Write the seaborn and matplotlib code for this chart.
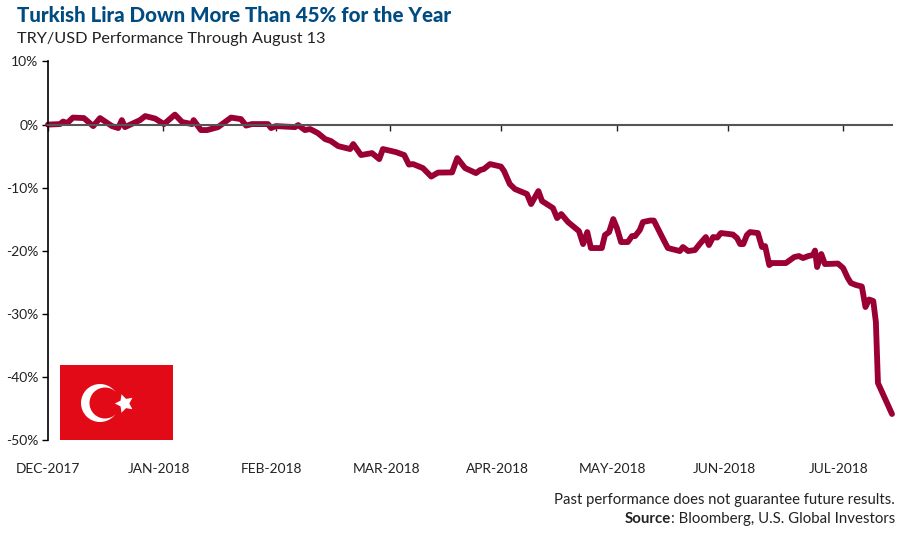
import matplotlib
matplotlib.use("Agg")
import matplotlib.pyplot as plt
import matplotlib.patches as mpatches
import matplotlib.transforms as mtrans
import pandas as pd
import seaborn as sns

# Trading days since the start of the series, and TRY/USD performance in %
trading_day = [
    0, 2.3, 2.9, 3.7, 4.8, 6.9, 8.7, 10.0, 12.3, 13.5, 14.2, 14.8, 17.7, 18.7, 20.6, 22.3,
    24.4, 25.8, 27.7, 28.0, 29.4, 30.6, 32.7, 35.2, 37.1, 38.1, 39.2, 42.3, 42.9, 43.8,
    47.5, 48.1, 49.4, 50.4, 51.9, 53.3, 54.4, 55.8, 58.1, 58.7, 60.2, 62.3, 63.7, 64.4,
    66.9, 68.5, 69.4, 70.2, 72.1, 73.7, 75.0, 77.7, 78.7, 80.2, 82.3, 83.1, 83.8, 85.0,
    87.1, 87.7, 88.8, 89.8, 92.1, 92.9, 94.3, 95.0, 97.1, 97.9, 98.7, 100.0, 102.1, 102.9,
    103.7, 104.4, 106.5, 107.1, 107.9, 108.7, 109.4, 110.2, 111.5, 112.3, 112.9, 113.8,
    114.4, 115.8, 116.5, 118.3, 119.2, 121.5, 122.1, 123.1, 124.4, 125.4, 126.5, 127.1,
    127.9, 128.7, 129.4, 131.7, 132.5, 133.1, 133.7, 134.4, 135.0, 136.5, 137.3, 137.9,
    138.7, 139.2, 141.9, 142.7, 143.5, 144.4, 145.2, 146.2, 147.1, 147.5, 147.9, 148.7,
    149.4, 151.9, 152.9, 153.8, 154.4, 155.4, 156.5, 157.2, 157.9, 158.7, 159.2, 159.6,
    162.3,
]
performance = [
    0, 0.08, 0.48, 0.24, 1.11, 1.03, -0.24, 1.03, -0.24, -0.55, 0.71, -0.40, 0.71, 1.35, 0.95, 0.08,
    1.58, 0.40, 0.08, 0.71, -0.87, -0.87, -0.40, 1.11, 0.87, -0.16, 0.08, 0.08, -0.55, -0.24,
    -0.40, -0.08, -0.87, -0.71, -1.35, -2.30, -2.61, -3.41, -3.88, -3.09, -4.83, -4.52, -5.47, -3.88,
    -4.36, -4.83, -6.34, -6.26, -6.90, -8.24, -7.61, -7.58, -5.31, -6.89, -7.69, -7.21, -7.05, -6.26,
    -6.66, -7.37, -9.43, -10.22, -11.01, -12.60, -10.54, -12.12, -13.23, -14.82, -14.18, -15.45, -16.88, -18.94,
    -17.04, -19.57, -19.57, -17.51, -17.04, -14.98, -16.40, -18.62, -18.62, -17.67, -17.67, -16.72,
    -15.45, -15.21, -15.21, -18.15, -19.57, -20.05, -19.41, -20.05, -19.89, -18.86, -17.83, -19.10,
    -17.83, -17.91, -17.19, -17.43, -17.99, -18.94, -18.94, -17.51, -17.04, -17.19, -19.41, -19.26,
    -22.27, -21.95, -21.95, -21.47, -21.00, -20.84, -21.16, -20.84, -20.68, -19.97, -22.58, -20.52,
    -22.11, -22.03, -22.74, -24.33, -25.12, -25.44, -25.67, -28.92, -27.73, -27.97, -31.30, -40.97,
    -45.88,
]
month_ticks = [0, 22.1, 43.8, 65.8, 87.2, 109.4, 130.8, 152.9]
month_labels = ["DEC-2017", "JAN-2018", "FEB-2018", "MAR-2018", "APR-2018", "MAY-2018", "JUN-2018", "JUL-2018"]
y_ticks = [10, 0, -10, -20, -30, -40, -50]
y_labels = ["10%", "0%", "-10%", "-20%", "-30%", "-40%", "-50%"]

W, H = 900, 533
FONT = "Lato"

sns.set_theme(style="white")
plt.rcParams["font.family"] = [FONT, "DejaVu Sans"]

df = pd.DataFrame({"day": trading_day, "pct": performance})

fig = plt.figure(figsize=(W / 100, H / 100), dpi=100)
ax = fig.add_axes([48 / W, 1 - 440 / H, 844 / W, 378.5 / H])
ax.patch.set_alpha(0)

sns.lineplot(data=df, x="day", y="pct", ax=ax, color="#9b0034", linewidth=4.2,
             estimator=None, sort=False, solid_joinstyle="round", solid_capstyle="round", clip_on=False)

ax.set_xlim(0, 162.3)
ax.set_ylim(-50, 10)
ax.set_xlabel("")
ax.set_ylabel("")

for side in ["top", "right"]:
    ax.spines[side].set_visible(False)
ax.spines["left"].set_color("black")
ax.spines["left"].set_linewidth(1.2)
ax.spines["bottom"].set_position(("data", 0))
ax.spines["bottom"].set_color("#555555")
ax.spines["bottom"].set_linewidth(1.5)

ax.set_yticks(y_ticks)
ax.set_yticklabels(y_labels)
ax.set_xticks(month_ticks)
ax.set_xticklabels(month_labels)
ax.tick_params(axis="y", length=4.5, width=1.0, color="black", pad=2.5, labelsize=10, labelcolor="#222222", left=True)
ax.tick_params(axis="x", length=4, width=1.0, color="#222222", pad=239.5, labelsize=9.9, labelcolor="#222222", bottom=True)

# month labels sit a little left of their ticks
shift = mtrans.ScaledTranslation(-3 / 72, 0, fig.dpi_scale_trans)
for lab in ax.get_xticklabels()[1:]:
    lab.set_transform(lab.get_transform() + shift)

# overlay in pixel coordinates for the flag and the headers
over = fig.add_axes([0, 0, 1, 1], zorder=5)
over.set_xlim(0, W)
over.set_ylim(H, 0)
over.axis("off")

over.add_patch(mpatches.Rectangle((60, 365), 112.5, 75, color="#e30a17", lw=0))
over.add_patch(mpatches.Circle((100, 403), 19, color="white", lw=0))
over.add_patch(mpatches.Circle((105, 403), 15.5, color="#e30a17", lw=0))
over.plot([124], [403], marker=(5, 1, 90), markersize=14, color="white", markeredgewidth=0)

over.text(17, 16, "Turkish Lira Down More Than 45% for the Year", fontsize=14.8, fontweight="black",
          color="#004b80", va="center", ha="left")
over.text(17, 39, "TRY/USD Performance Through August 13", fontsize=11.7, color="#222222", va="center", ha="left")

over.text(895, 500, "Past performance does not guarantee future results.", fontsize=10.7, color="#222222",
          ha="right", va="center")
rest = over.text(895, 519, ": Bloomberg, U.S. Global Investors", fontsize=10.8, color="#222222", ha="right", va="center")
fig.canvas.draw()
x0 = rest.get_window_extent().x0
over.text(x0, 519, "Source", fontsize=10.8, fontweight="bold", color="#222222", ha="right", va="center")

fig.savefig("out.png", dpi=100)
